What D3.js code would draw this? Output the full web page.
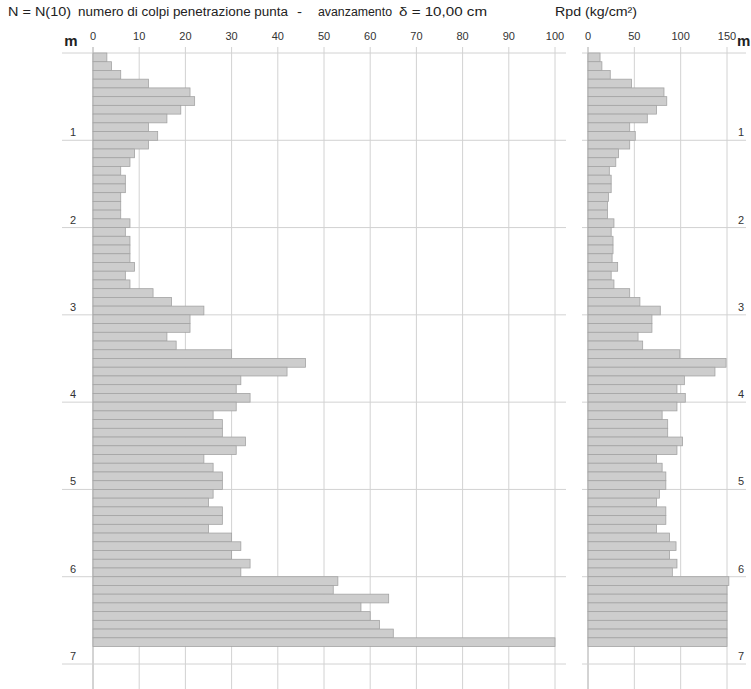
<!DOCTYPE html>
<html>
<head>
<meta charset="utf-8">
<script src="https://cdn.jsdelivr.net/npm/d3@7"></script>
<style>
  html, body { margin: 0; padding: 0; background: #fff; }
  svg { display: block; font-family: "Liberation Sans", Arial, sans-serif; }
</style>
</head>
<body>
<svg id="chart" width="751" height="689"></svg>
<script>
// Penetrometer log: top depth (m) of each 10 cm step
const depthFrom = [
  0.0, 0.1, 0.2, 0.3, 0.4, 0.5, 0.6, 0.7, 0.8, 0.9,
  1.0, 1.1, 1.2, 1.3, 1.4, 1.5, 1.6, 1.7, 1.8, 1.9,
  2.0, 2.1, 2.2, 2.3, 2.4, 2.5, 2.6, 2.7, 2.8, 2.9,
  3.0, 3.1, 3.2, 3.3, 3.4, 3.5, 3.6, 3.7, 3.8, 3.9,
  4.0, 4.1, 4.2, 4.3, 4.4, 4.5, 4.6, 4.7, 4.8, 4.9,
  5.0, 5.1, 5.2, 5.3, 5.4, 5.5, 5.6, 5.7, 5.8, 5.9,
  6.0, 6.1, 6.2, 6.3, 6.4, 6.5, 6.6, 6.7
];
const stepDepth = 0.1;

// N(10): blows per 10 cm of tip advance
const blowsN = [
  3, 4, 6, 12, 21, 22, 19, 16, 12, 14,
  12, 9, 8, 6, 7, 7, 6, 6, 6, 8,
  7, 8, 8, 8, 9, 7, 8, 13, 17, 24,
  21, 21, 16, 18, 30, 46, 42, 32, 31, 34,
  31, 26, 28, 28, 33, 31, 24, 26, 28, 28,
  26, 25, 28, 28, 25, 30, 32, 30, 34, 32,
  53, 52, 64, 58, 60, 62, 65, 100
];

// Rpd: dynamic point resistance (kg/cm²)
const rpd = [
  13, 15, 24, 47, 82, 85, 74, 64, 45, 51,
  45, 33, 30, 23, 25, 25, 22, 21, 21, 28,
  25, 27, 27, 26, 32, 25, 28, 45, 56, 78,
  69, 69, 54, 59, 99, 149, 137, 104, 96, 105,
  96, 80, 86, 86, 102, 96, 74, 80, 84, 84,
  77, 74, 84, 84, 74, 88, 95, 88, 96, 91,
  152, 150, 150, 150, 150, 150, 150, 150
];

const nTicks = [0, 10, 20, 30, 40, 50, 60, 70, 80, 90, 100];
const rpdTicks = [0, 50, 100, 150];
const depthTicks = [1, 2, 3, 4, 5, 6, 7];

const titleParts = [
  "N = N(10)",
  "numero di colpi penetrazione punta",
  "-",
  "avanzamento",
  "\u03B4 = 10,00 cm"
];
const titleRight = "Rpd (kg/cm\u00B2)";

const svg = d3.select("#chart");

const y = d3.scaleLinear().domain([0, 7]).range([53, 664]);
const xN = d3.scaleLinear().domain([0, 100]).range([93, 555]);
const xR = d3.scaleLinear().domain([0, 150]).range([588, 727]);

const gridColor = "#d2d2d2";
const axisColor = "#a8a8a8";
const bottomY = 689;
const topTickY = 47;

// heading: the parts are laid out with wide gaps between them
const partX = [8, 78, 297, 318, 399];
const partLen = [63, 210, 5, 74, 88];
const heading = svg.append("text").attr("y", 16)
  .attr("font-size", 12.5).attr("fill", "#222");
heading.selectAll("tspan").data(titleParts).join("tspan")
  .attr("x", (d, i) => partX[i])
  .attr("textLength", (d, i) => partLen[i])
  .attr("lengthAdjust", "spacingAndGlyphs")
  .text(d => d);

svg.append("text").attr("x", 555).attr("y", 16)
  .attr("font-size", 12).attr("fill", "#222")
  .attr("textLength", 82).attr("lengthAdjust", "spacingAndGlyphs")
  .text(titleRight);

// depth unit labels
svg.append("text").attr("x", 71).attr("y", 46).attr("text-anchor", "middle")
  .attr("font-size", 15).attr("font-weight", "bold").attr("fill", "#222").text("m");
svg.append("text").attr("x", 737).attr("y", 46)
  .attr("font-size", 15).attr("font-weight", "bold").attr("fill", "#222").text("m");

function panel(x, ticks, values, xLeft, xRight, labelX) {
  const g = svg.append("g");

  // vertical grid
  g.selectAll("line.v").data(ticks).join("line")
    .attr("x1", d => x(d)).attr("x2", d => x(d))
    .attr("y1", topTickY).attr("y2", bottomY)
    .attr("stroke", d => d === 0 ? axisColor : gridColor)
    .attr("stroke-width", 1);

  // horizontal grid at each metre
  g.selectAll("line.h").data([0].concat(depthTicks)).join("line")
    .attr("x1", xLeft).attr("x2", xRight)
    .attr("y1", d => y(d)).attr("y2", d => y(d))
    .attr("stroke", gridColor).attr("stroke-width", 1);

  // tick labels
  g.selectAll("text.t").data(ticks).join("text")
    .attr("x", d => x(d)).attr("y", 40)
    .attr("text-anchor", "middle").attr("font-size", 11).attr("fill", "#333")
    .text(d => d);

  // bars
  g.selectAll("rect.bar").data(values).join("rect")
    .attr("x", x(0))
    .attr("y", (d, i) => y(depthFrom[i]))
    .attr("width", d => x(d) - x(0))
    .attr("height", y(stepDepth) - y(0))
    .attr("fill", "#cdcdcd")
    .attr("stroke", "#a3a3a3")
    .attr("stroke-width", 0.8);

  // depth labels
  g.selectAll("text.d").data(depthTicks).join("text")
    .attr("x", labelX).attr("y", d => y(d) - 4)
    .attr("text-anchor", "middle").attr("font-size", 11).attr("fill", "#333")
    .text(d => d);
}

panel(xN, nTicks, blowsN, 62, 566, 73);
panel(xR, rpdTicks, rpd, 582, 746, 741);
</script>
</body>
</html>
